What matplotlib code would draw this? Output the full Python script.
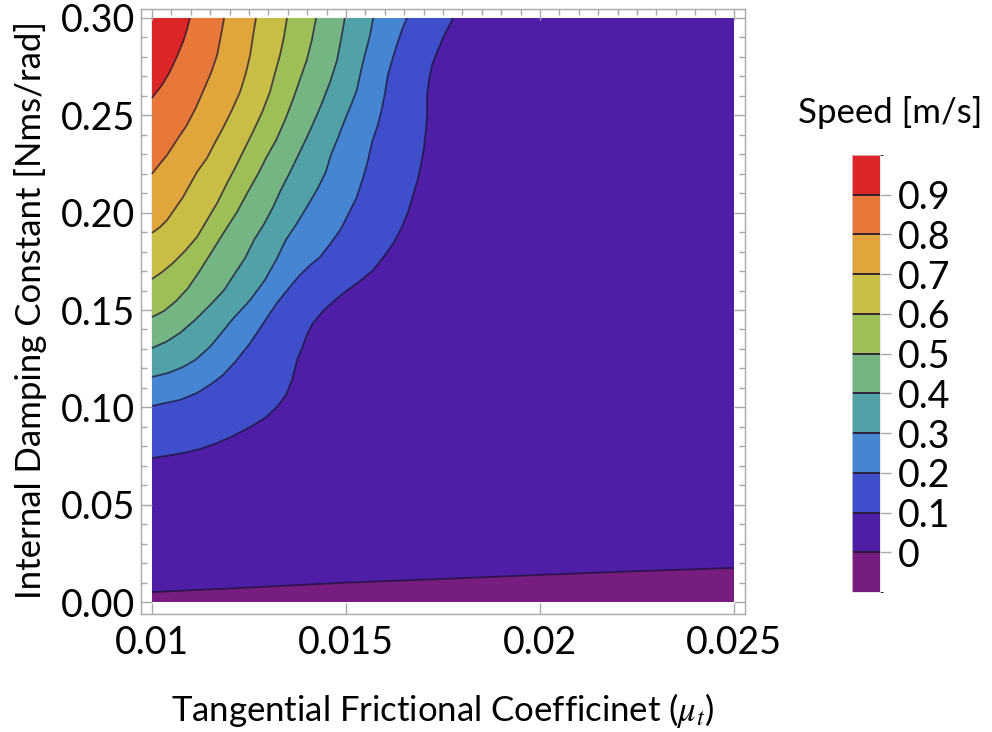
import numpy as np
import matplotlib.pyplot as plt
from matplotlib.colors import ListedColormap, BoundaryNorm
import matplotlib.cm as cm

plt.rcParams['font.family'] = ['Lato', 'DejaVu Sans']
plt.rcParams['mathtext.fontset'] = 'stix'

# contour levels of speed [m/s] and band colours (below 0 ... above 0.9)
levels = [0.0, 0.1, 0.2, 0.3, 0.4, 0.5, 0.6, 0.7, 0.8, 0.9]
level_labels = ['0', '0.1', '0.2', '0.3', '0.4', '0.5', '0.6', '0.7', '0.8', '0.9']
band_colors = ['#781d80', '#4f1ea7', '#3f4fcc', '#4685d1', '#51a2a7', '#74b583',
               '#9ebf58', '#c8bd45', '#e0a53b', '#e7783a', '#dc2526']

# contour lines: x = mu_t, y = damping constant
# level 0 runs left edge -> right edge, the others run top edge -> left edge
c0_x = [0.01000, 0.01227, 0.01485, 0.01742, 0.02000, 0.02258, 0.02500]
c0_y = [0.0051, 0.0072, 0.0098, 0.0118, 0.0139, 0.0159, 0.0175]

c1_x = [0.01776, 0.01763, 0.01750, 0.01735, 0.01722, 0.01714, 0.01709, 0.01709, 0.01706, 0.01701,
        0.01693, 0.01686, 0.01673, 0.01660, 0.01644, 0.01624, 0.01601, 0.01570, 0.01536, 0.01497,
        0.01472, 0.01441, 0.01415, 0.01399, 0.01387, 0.01374, 0.01361, 0.01345, 0.01322, 0.01291,
        0.01253, 0.01209, 0.01168, 0.01124, 0.01080, 0.01034, 0.01000]
c1_y = [0.3000, 0.2949, 0.2897, 0.2825, 0.2759, 0.2682, 0.2604, 0.2502, 0.2425, 0.2332,
        0.2245, 0.2178, 0.2091, 0.2003, 0.1926, 0.1849, 0.1783, 0.1705, 0.1649, 0.1592,
        0.1551, 0.1495, 0.1433, 0.1372, 0.1305, 0.1243, 0.1140, 0.1063, 0.1002, 0.0945,
        0.0899, 0.0853, 0.0817, 0.0786, 0.0765, 0.0750, 0.0740]

c2_x = [0.01657, 0.01644, 0.01631, 0.01619, 0.01608, 0.01601, 0.01593, 0.01582, 0.01567, 0.01557,
        0.01546, 0.01528, 0.01505, 0.01485, 0.01459, 0.01433, 0.01405, 0.01379, 0.01353, 0.01322,
        0.01289, 0.01253, 0.01214, 0.01183, 0.01149, 0.01116, 0.01072, 0.01034, 0.01000]
c2_y = [0.3000, 0.2938, 0.2861, 0.2784, 0.2707, 0.2620, 0.2538, 0.2450, 0.2363, 0.2271,
        0.2193, 0.2080, 0.1988, 0.1911, 0.1839, 0.1772, 0.1726, 0.1675, 0.1613, 0.1536,
        0.1438, 0.1330, 0.1233, 0.1166, 0.1115, 0.1074, 0.1038, 0.1022, 0.1007]

c3_x = [0.01570, 0.01562, 0.01552, 0.01539, 0.01528, 0.01513, 0.01497, 0.01477, 0.01461, 0.01448,
        0.01425, 0.01399, 0.01371, 0.01345, 0.01320, 0.01291, 0.01253, 0.01206, 0.01175, 0.01149,
        0.01111, 0.01080, 0.01041, 0.01000]
c3_y = [0.3000, 0.2913, 0.2836, 0.2733, 0.2630, 0.2553, 0.2476, 0.2373, 0.2296, 0.2209,
        0.2116, 0.2029, 0.1937, 0.1860, 0.1757, 0.1654, 0.1551, 0.1449, 0.1372, 0.1310,
        0.1243, 0.1207, 0.1176, 0.1156]

c4_x = [0.01497, 0.01487, 0.01477, 0.01459, 0.01438, 0.01425, 0.01402, 0.01381, 0.01356, 0.01332,
        0.01312, 0.01289, 0.01263, 0.01240, 0.01216, 0.01186, 0.01155, 0.01111, 0.01072, 0.01036,
        0.01000]
c4_y = [0.3000, 0.2887, 0.2784, 0.2671, 0.2563, 0.2502, 0.2399, 0.2312, 0.2209, 0.2116,
        0.2029, 0.1942, 0.1860, 0.1767, 0.1695, 0.1603, 0.1536, 0.1449, 0.1382, 0.1336,
        0.1305]

c5_x = [0.01423, 0.01412, 0.01399, 0.01381, 0.01363, 0.01343, 0.01320, 0.01294, 0.01276, 0.01247,
        0.01219, 0.01186, 0.01149, 0.01121, 0.01093, 0.01062, 0.01031, 0.01000]
c5_y = [0.3000, 0.2887, 0.2784, 0.2682, 0.2579, 0.2476, 0.2373, 0.2281, 0.2209, 0.2106,
        0.2003, 0.1901, 0.1783, 0.1695, 0.1613, 0.1546, 0.1495, 0.1464]

c6_x = [0.01348, 0.01340, 0.01330, 0.01317, 0.01304, 0.01284, 0.01260, 0.01237, 0.01214, 0.01191,
        0.01168, 0.01142, 0.01116, 0.01085, 0.01054, 0.01026, 0.01000]
c6_y = [0.3000, 0.2902, 0.2810, 0.2717, 0.2620, 0.2517, 0.2414, 0.2322, 0.2229, 0.2142,
        0.2050, 0.1962, 0.1875, 0.1803, 0.1741, 0.1695, 0.1659]

c7_x = [0.01268, 0.01260, 0.01253, 0.01242, 0.01227, 0.01206, 0.01183, 0.01162, 0.01142, 0.01116,
        0.01080, 0.01039, 0.01021, 0.01000]
c7_y = [0.3000, 0.2902, 0.2810, 0.2717, 0.2620, 0.2527, 0.2435, 0.2358, 0.2281, 0.2209,
        0.2080, 0.1962, 0.1926, 0.1896]

c8_x = [0.01186, 0.01178, 0.01168, 0.01152, 0.01131, 0.01113, 0.01090, 0.01064, 0.01039, 0.01018,
        0.01000]
c8_y = [0.3000, 0.2913, 0.2810, 0.2717, 0.2620, 0.2538, 0.2450, 0.2373, 0.2296, 0.2245,
        0.2199]

c9_x = [0.01098, 0.01090, 0.01080, 0.01064, 0.01046, 0.01026, 0.01000]
c9_y = [0.3000, 0.2938, 0.2877, 0.2800, 0.2723, 0.2656, 0.2589]

x_min, x_max = 0.01, 0.025
y_min, y_max = 0.0, 0.30

fig = plt.figure(figsize=(9.92, 7.32), dpi=100)
ax = fig.add_axes([0.1421, 0.1612, 0.6089, 0.8265])

# paint the bands from the lowest up, each region nests inside the previous one
ax.fill([x_min, x_max, x_max, x_min], [y_min, y_min, y_max, y_max], color=band_colors[0], lw=0)
ax.fill(c0_x + [x_max, x_min], c0_y + [y_max, y_max], color=band_colors[1], lw=0)

upper_lines = [(c1_x, c1_y), (c2_x, c2_y), (c3_x, c3_y), (c4_x, c4_y), (c5_x, c5_y),
               (c6_x, c6_y), (c7_x, c7_y), (c8_x, c8_y), (c9_x, c9_y)]
for i, (lx, ly) in enumerate(upper_lines):
    ax.fill(lx + [x_min], ly + [y_max], color=band_colors[i + 2], lw=0)

for lx, ly in [(c0_x, c0_y)] + upper_lines:
    ax.plot(lx, ly, color='#1a1030', alpha=0.7, lw=1.3, solid_capstyle='butt')

# frame with padding around the data region
ax.set_xlim(0.009716, 0.025284)
ax.set_ylim(-0.00616, 0.30462)
ax.set_xticks([0.01, 0.015, 0.02, 0.025])
ax.set_xticklabels(['0.01', '0.015', '0.02', '0.025'])
ax.set_xticks(np.arange(0.01, 0.02501, 0.0005), minor=True)
ax.set_yticks(np.arange(0, 0.301, 0.05))
ax.set_yticklabels(['0.00', '0.05', '0.10', '0.15', '0.20', '0.25', '0.30'])
ax.set_yticks(np.arange(0, 0.301, 0.01), minor=True)

frame_gray = '#a8a8a8'
for sp in ax.spines.values():
    sp.set_color(frame_gray)
    sp.set_linewidth(1.0)
ax.tick_params(which='both', direction='in', top=True, right=True, color=frame_gray, width=1)
ax.tick_params(which='major', length=8, labelsize=27, pad=4)
ax.tick_params(which='minor', length=4)
ax.tick_params(axis='x', which='minor', bottom=False, top=True)
ax.tick_params(axis='x', which='major', pad=8)

fig.text(0.4466, 0.030, r'Tangential Frictional Coefficinet ($\mu_t$)', ha='center', va='center', fontsize=25)
fig.text(0.031, 0.5765, 'Internal Damping Constant [Nms/rad]', ha='center', va='center',
         rotation=90, fontsize=25)

# legend bar
cax = fig.add_axes([0.8589, 0.1913, 0.0282, 0.597])
bounds = [-0.1] + levels + [1.0]
cmap = ListedColormap(band_colors)
norm = BoundaryNorm(bounds, cmap.N)
sm = cm.ScalarMappable(norm=norm, cmap=cmap)
cb = fig.colorbar(sm, cax=cax, ticks=levels, drawedges=True)
cb.dividers.set_color('#2a1a30')
cb.dividers.set_linewidth(1.3)
cb.outline.set_edgecolor('#dddddd')
cb.outline.set_linewidth(0.5)
cb.ax.set_yticklabels(level_labels)
cb.ax.tick_params(length=8, width=1, color=frame_gray, labelsize=27, pad=5)
fig.text(0.897, 0.846, 'Speed [m/s]', ha='center', va='center', fontsize=25)

fig.savefig('out.png', dpi=100)
